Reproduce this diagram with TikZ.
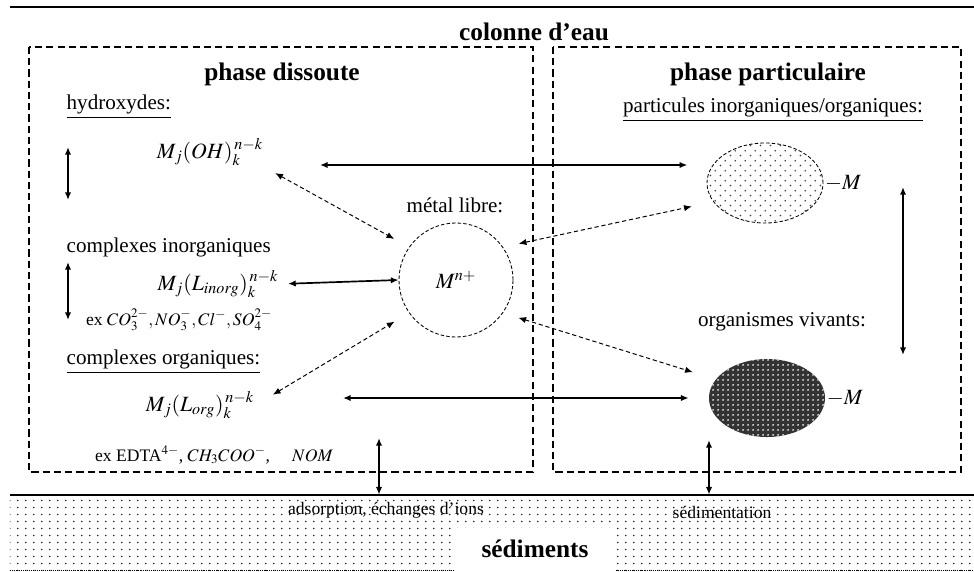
\documentclass[tikz,border=0pt]{standalone}
\usepackage{mathptmx}
\usepackage{fontspec}
\setmainfont{Liberation Serif}
\usetikzlibrary{arrows.meta, patterns, shapes.geometric, calc}

\pgfdeclarepatternformonly{seddots}{\pgfpointorigin}{\pgfpoint{5.7pt}{5pt}}{\pgfpoint{5.7pt}{5pt}}{%
  \pgfpathcircle{\pgfpoint{1.4pt}{1.2pt}}{0.75pt}\pgfusepath{fill}}
\pgfdeclarepatternformonly{sparsedots}{\pgfpointorigin}{\pgfpoint{7pt}{7pt}}{\pgfpoint{7pt}{7pt}}{%
  \pgfpathcircle{\pgfpoint{1.75pt}{1.75pt}}{0.65pt}\pgfpathcircle{\pgfpoint{5.25pt}{5.25pt}}{0.65pt}\pgfusepath{fill}}
\pgfdeclarepatternformonly{holes}{\pgfpointorigin}{\pgfpoint{3.2pt}{3.2pt}}{\pgfpoint{3.2pt}{3.2pt}}{%
  \pgfpathcircle{\pgfpoint{1.6pt}{1.6pt}}{0.75pt}\pgfusepath{fill}}

\begin{document}
\begin{tikzpicture}[
    x=0.025cm, y=-0.025cm,
    txt/.style={font=\fontsize{15}{18}\selectfont, inner sep=1pt},
    small/.style={font=\fontsize{12.5}{15}\selectfont, inner sep=1pt},
    head/.style={font=\fontsize{18}{21}\selectfont\bfseries, inner sep=1pt},
    frml/.style={font=\fontsize{15.5}{18}\selectfont, inner sep=1pt},
    box/.style={draw, line width=1pt, dash pattern=on 5pt off 3pt},
    link/.style={{Latex[length=5.5pt,width=4.5pt]}-{Latex[length=5.5pt,width=4.5pt]}, line width=1.2pt},
    dlink/.style={link, line width=0.7pt, dash pattern=on 3pt off 2pt},
    blob/.style={ellipse, minimum width=2.9cm, minimum height=2cm},
]
\useasboundingbox (0,0) rectangle (974,572);

\draw[line width=1.2pt] (10,7) -- (974,7);
\node[head] (col) at (534,32) {colonne d'eau};
\draw[box] (29,47) rectangle (533,472);
\draw[box] (553,47) rectangle (961,472);

% phase dissoute
\node[head] (dis) at (282,74) {phase dissoute};
\node[txt, anchor=west] (hydl) at (65,107) {\underline{hydroxydes:}};
\node[frml] (hyd) at (210,152) {$M_j(OH)_k^{\,n-k}$};
\node[txt, anchor=west] (inol) at (65,247) {complexes inorganiques};
\node[frml] (ino) at (218,284) {$M_j(L_{inorg})_k^{\,n-k}$};
\node[small] (inoex) at (179,320) {ex $CO_3^{2-}, NO_3^{-}, Cl^{-}, SO_4^{2-}$};
\node[txt, anchor=west] (orgl) at (65,362) {\underline{complexes organiques:}};
\node[frml] (org) at (200,405) {$M_j(L_{org})_k^{\,n-k}$};
\node[small] (orgex) at (214,455) {ex EDTA$^{4-}$, $CH_3COO^-$, \quad $NOM$};
\node[txt] (metl) at (455,205) {métal libre:};
\node[frml, circle, draw, line width=0.6pt, dash pattern=on 2.5pt off 1.5pt, minimum size=2.85cm] (met) at (456,280) {$M^{n+}$};

% phase particulaire
\node[head] (par) at (768,74) {phase particulaire};
\node[txt] (partl) at (773,110) {\underline{particules inorganiques/organiques:}};
\node[blob, draw, line width=0.6pt, dash pattern=on 2.5pt off 1.5pt, pattern=sparsedots, pattern color=black!75] (ptop) at (765,183) {};
\node[frml, anchor=west] (mtop) at (ptop.east) {$-M$};
\node[txt] (viv) at (782,322) {organismes vivants:};
\node[blob, minimum height=1.95cm, preaction={fill=black!80}, pattern=holes, pattern color=white] (porg) at (767,398) {};
\node[frml, anchor=west] (morg) at (porg.east) {$-M$};

% sediments
\node[minimum width=24.1cm, minimum height=1.875cm, inner sep=0pt, pattern=seddots, pattern color=black!85] (sed) at (492,532.5) {};
\draw[line width=1.2pt] (sed.north west) -- (sed.north east);
\draw[densely dotted] (sed.south west) -- (sed.south east);
\node[small] (ads) at (386,510) {adsorption, échanges d'ions};
\node[small] (sdm) at (722,512) {sédimentation};
\node[head, fill=white, minimum width=4cm, minimum height=1.075cm] (sedl) at (535,549) {sédiments};

\coordinate (hydR) at (320,165);
\coordinate (orgR) at (343,398);
\coordinate (v1) at (68,147);
\coordinate (v2) at (68,200);
\coordinate (v3) at (68,262);
\coordinate (v4) at (68,320);
\coordinate (v5) at (903,187);
\coordinate (v6) at (903,355);
\coordinate (d1) at (379,438);
\coordinate (d2) at (709,440);

\draw[link] (v1) -- (v2);
\draw[link] (v3) -- (v4);
\draw[link] (v5) -- (v6);
\draw[link] (d1) -- (d1 |- sed.north);
\draw[link] (d2) -- (d2 |- sed.north);

\draw[link, shorten >=0.48cm] (hydR) -- (hydR -| ptop.west);
\draw[link, shorten <=0.2cm] (ino.east) -- (met.west);
\draw[link, shorten >=0.5cm] (orgR) -- (porg.west);

\draw[dlink, shorten <=0.3cm, shorten >=0.42cm] (hyd.south east) -- (met.145);
\draw[dlink, shorten <=0.5cm, shorten >=0.42cm] (org.east) -- (met.215);
\draw[dlink, shorten <=0.4cm, shorten >=0.55cm] (met.35) -- (ptop.200);
\draw[dlink, shorten <=0.4cm, shorten >=0.6cm] (met.-35) -- (porg.160);
\end{tikzpicture}
\end{document}
